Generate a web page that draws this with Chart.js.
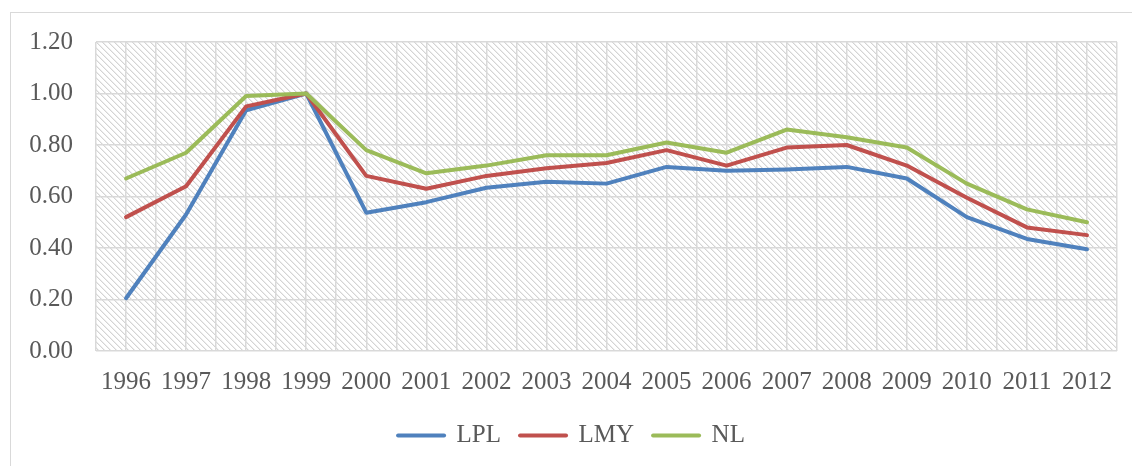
<!DOCTYPE html>
<html>
<head>
<meta charset="utf-8">
<script src="https://cdn.jsdelivr.net/npm/chart.js@4.4.1/dist/chart.umd.min.js"></script>
<style>
    html, body { margin: 0; padding: 0; background: #fff; overflow: hidden; }
    #frame { position: absolute; left: 10px; top: 12px; width: 1140px; height: 470px; border: 1.5px solid #d9d9d9; }
    #wrap { position: absolute; left: 0; top: 0; width: 1132px; height: 466px; }
</style>
</head>
<body>
<div id="frame"></div>
<div id="wrap"><canvas id="chart" width="1132" height="466"></canvas></div>
<script>
const years = ['1996', '1997', '1998', '1999', '2000', '2001', '2002', '2003', '2004', '2005', '2006', '2007', '2008', '2009', '2010', '2011', '2012'];
const lpl = [0.205, 0.53, 0.935, 1.00, 0.537, 0.578, 0.634, 0.657, 0.650, 0.715, 0.700, 0.705, 0.715, 0.670, 0.520, 0.435, 0.395];
const lmy = [0.52, 0.64, 0.95, 1.00, 0.68, 0.63, 0.68, 0.71, 0.73, 0.78, 0.72, 0.79, 0.80, 0.72, 0.595, 0.48, 0.45];
const nl = [0.67, 0.77, 0.99, 1.00, 0.78, 0.69, 0.72, 0.76, 0.76, 0.81, 0.77, 0.86, 0.83, 0.79, 0.65, 0.55, 0.50];
const yTicks = [0, 0.2, 0.4, 0.6, 0.8, 1.0, 1.2];

const FONT = 'Liberation Serif';
const GRID = '#d9d9d9';
const TEXT = '#595959';

// light diagonal hatch behind the plot, like excel's pattern fill
function hatchPattern(ctx) {
    const n = 6;
    const c = document.createElement('canvas');
    c.width = n; c.height = n;
    const g = c.getContext('2d');
    g.fillStyle = '#fff';
    g.fillRect(0, 0, n, n);
    for (let y = 0; y < n; y++) {
        for (let x = 0; x < n; x++) {
            const d = ((x - y) % n + n) % n;
            if (d === 0) { g.fillStyle = '#d4d4d4'; g.fillRect(x, y, 1, 1); }
            if (d === 1) { g.fillStyle = '#ededed'; g.fillRect(x, y, 1, 1); }
        }
    }
    return ctx.createPattern(c, 'repeat');
}

const hatch = {
    id: 'hatch',
    beforeDraw(chart) {
        const { ctx, chartArea: a } = chart;
        ctx.save();
        ctx.fillStyle = hatchPattern(ctx);
        ctx.fillRect(a.left, a.top, a.right - a.left, a.bottom - a.top);
        ctx.restore();
    },
};

const series = [
    { label: 'LPL', data: lpl, color: '#4F81BD', order: 3 },
    { label: 'LMY', data: lmy, color: '#C0504D', order: 2 },
    { label: 'NL', data: nl, color: '#9BBB59', order: 1 },
];

new Chart(document.getElementById('chart'), {
    type: 'line',
    data: {
        labels: years,
        datasets: series.map((s) => ({
            label: s.label,
            data: s.data,
            borderColor: s.color,
            backgroundColor: s.color,
            borderWidth: 4,
            pointRadius: 0,
            tension: 0,
            borderJoinStyle: 'round',
            borderCapStyle: 'round',
            order: s.order,
        })),
    },
    options: {
        responsive: false,
        animation: false,
        layout: { padding: { left: 26, right: 15, top: 42, bottom: 8 } },
        plugins: {
            tooltip: { enabled: false },
            legend: {
                position: 'bottom',
                sort: (a, b) => a.datasetIndex - b.datasetIndex,
                labels: {
                    usePointStyle: true,
                    pointStyle: 'line',
                    pointStyleWidth: 46,
                    boxHeight: 25,
                    padding: 19,
                    color: TEXT,
                    font: { family: FONT, size: 25 },
                    generateLabels: (chart) => chart.data.datasets.map((d, i) => ({
                        text: d.label,
                        datasetIndex: i,
                        strokeStyle: d.borderColor,
                        fillStyle: d.borderColor,
                        lineWidth: 4,
                        lineCap: 'round',
                        pointStyle: 'line',
                        fontColor: TEXT,
                        hidden: false,
                    })),
                },
            },
        },
        scales: {
            x: {
                type: 'category',
                offset: true,
                grid: { display: false },
                border: { display: false },
                ticks: { color: TEXT, font: { family: FONT, size: 25 }, padding: 8, autoSkip: false, maxRotation: 0 },
                afterFit: (s) => { s.height = 53; },
            },
            x2: {
                type: 'linear',
                position: 'bottom',
                min: -0.5,
                max: 16.5,
                ticks: { display: false, stepSize: 0.5 },
                grid: { color: GRID, lineWidth: 1.5, drawTicks: false },
                border: { display: false },
                afterFit: (s) => { s.height = 0; },
            },
            y: {
                min: 0,
                max: 1.2,
                afterBuildTicks: (s) => { s.ticks = yTicks.map((v) => ({ value: v })); },
                ticks: { color: TEXT, font: { family: FONT, size: 25 }, padding: 23, callback: (v) => Number(v).toFixed(2) },
                grid: { color: GRID, lineWidth: 1.5, drawTicks: false },
                border: { display: false },
                afterFit: (s) => { s.width = 70; },
            },
        },
    },
    plugins: [hatch],
});
</script>
</body>
</html>
